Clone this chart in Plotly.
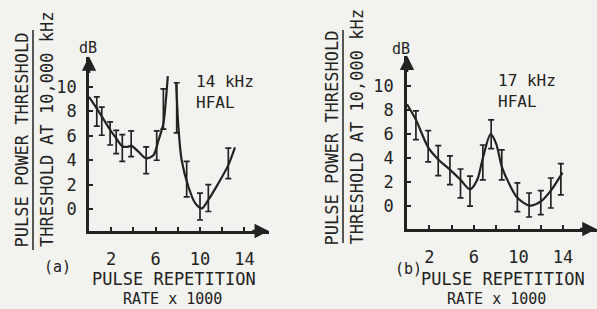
import plotly.graph_objects as go

W, H = 597, 309
INK = "#222222"
BG = "#f2f2ee"
FONT = "DejaVu Sans Mono"

# ---------- data: panel (a) 14 kHz ----------
a_bar_x = [0.7, 1.15, 1.9, 2.45, 3.0, 3.8, 5.15, 6.1, 6.7, 7.9, 8.8, 10.0, 10.75, 12.55]
a_bar_y = [8.0, 7.2, 6.2, 5.5, 5.0, 5.35, 4.0, 5.2, 8.2, 8.3, 2.45, 0.2, 0.9, 3.75]
a_bar_e = [1.2, 1.15, 0.95, 0.95, 1.1, 1.05, 1.1, 1.2, 1.65, 2.05, 1.45, 1.1, 1.1, 1.25]
a_curve_x = [0, 0.7, 1.15, 1.9, 2.45, 3.0, 3.5, 3.8, 4.45, 5.15, 5.8, 6.25, 6.7, 6.95, 7.1,
             None,
             7.85, 8.05, 8.35, 8.95, 9.55, 10.15, 10.75, 11.65, 12.55, 13.15]
a_curve_y = [9.2, 8.25, 7.6, 6.5, 5.8, 5.15, 5.1, 5.2, 4.7, 4.15, 4.4, 5.6, 7.0, 9.2, 10.9,
             None,
             10.4, 6.75, 4.0, 1.85, 0.5, 0.05, 0.75, 2.1, 3.6, 5.05]

# ---------- data: panel (b) 17 kHz ----------
b_bar_x = [0.8, 1.9, 2.8, 3.85, 4.8, 5.65, 6.8, 7.55, 8.5, 9.9, 10.95, 12.0, 12.9, 13.8]
b_bar_y = [6.75, 5.0, 3.8, 3.0, 1.9, 1.25, 3.65, 6.0, 3.45, 0.75, 0.1, 0.3, 1.1, 2.25]
b_bar_e = [1.2, 1.3, 1.25, 1.2, 1.2, 1.25, 1.45, 1.2, 1.25, 1.2, 1.0, 1.0, 1.25, 1.3]
b_curve_x = [0, 0.8, 1.9, 2.8, 3.85, 4.8, 5.65, 6.3, 6.8, 7.5, 8.0, 8.5, 9.2, 9.9, 11.0, 12.0, 12.9, 13.95]
b_curve_y = [8.5, 7.2, 4.9, 3.9, 3.05, 2.2, 1.4, 2.2, 4.0, 6.0, 5.2, 3.3, 1.8, 0.7, 0.05, 0.4, 1.3, 2.8]

x_tickvals = [2, 4, 6, 8, 10, 12, 14]
x_ticktext = ["2", "", "6", "", "10", "", "14"]
y_tickvals = [0, 2, 4, 6, 8, 10]
y_ticktext = ["0", "2", "4", "6", "8", "10"]


def px(x):
    return x / W


def py(y):
    return 1 - y / H


fig = go.Figure()

for (cx, cy, bx, by, be, xa, ya) in [
    (a_curve_x, a_curve_y, a_bar_x, a_bar_y, a_bar_e, "x", "y"),
    (b_curve_x, b_curve_y, b_bar_x, b_bar_y, b_bar_e, "x2", "y2"),
]:
    fig.add_trace(go.Scatter(x=cx, y=cy, mode="lines", xaxis=xa, yaxis=ya,
                             line=dict(color=INK, width=2.2, shape="spline", smoothing=0.8),
                             connectgaps=False, showlegend=False, hoverinfo="skip"))
    fig.add_trace(go.Scatter(x=bx, y=by, mode="markers", xaxis=xa, yaxis=ya,
                             marker=dict(size=0.1, color=INK),
                             error_y=dict(type="data", array=be, visible=True,
                                          color=INK, thickness=1.7, width=3),
                             showlegend=False, hoverinfo="skip"))

axis_common = dict(showgrid=False, zeroline=False, showline=True, linecolor=INK,
                   linewidth=2.6, ticks="inside", ticklen=4, tickwidth=1.8,
                   tickcolor=INK, tickfont=dict(family=FONT, size=17, color=INK))

# panel a geometry: x0 at 89px, 11.1 px/unit; 0dB at 209px, 12.2 px/dB
ax_xr = [0, 16.2]
ax_yr = [-1.8, 12.5]
a_x0, a_x1 = 89, 89 + 16.2 * 11.1
a_yb, a_yt = 231, 231 - 14.3 * 12.2
# panel b geometry: x0 at 407px, 11.15 px/unit; 0dB at 206.5px, 12.0 px/dB
bx_xr = [0, 17]
bx_yr = [-1.9, 12.55]
b_x0, b_x1 = 407, 407 + 17 * 11.15
b_yb, b_yt = 229, 229 - 14.45 * 12.0

fig.update_layout(
    width=W, height=H, margin=dict(l=0, r=0, t=0, b=0),
    paper_bgcolor=BG, plot_bgcolor=BG,
    xaxis=dict(domain=[px(a_x0), px(a_x1)], range=ax_xr, anchor="y",
               tickvals=x_tickvals, ticktext=x_ticktext, ticklabelstandoff=11, **axis_common),
    yaxis=dict(domain=[py(a_yb), py(a_yt)], range=ax_yr, anchor="x",
               tickvals=y_tickvals, ticktext=y_ticktext, ticklabelstandoff=6, **axis_common),
    xaxis2=dict(domain=[px(b_x0), min(1, px(b_x1))], range=bx_xr, anchor="y2",
                tickvals=x_tickvals, ticktext=x_ticktext, ticklabelstandoff=11, **axis_common),
    yaxis2=dict(domain=[py(b_yb), py(b_yt)], range=bx_yr, anchor="x2",
                tickvals=y_tickvals, ticktext=y_ticktext, ticklabelstandoff=7, **axis_common),
)

ann = []


def text(x, y, s, size=17, angle=0, xanchor="center"):
    ann.append(dict(x=px(x), y=py(y), xref="paper", yref="paper", text=s, showarrow=False,
                    textangle=angle, xanchor=xanchor, yanchor="middle", borderpad=0,
                    font=dict(family=FONT, size=size, color=INK)))


# axis arrows
for xr, yr, xtop, ytop, xend, yend in [
    ("x", "y", 0, ax_yr[1], ax_xr[1], ax_yr[0]),
    ("x2", "y2", 0, bx_yr[1], bx_xr[1], bx_yr[0]),
]:
    ann.append(dict(x=xtop, y=ytop, xref=xr, yref=yr, ax=0, ay=18, showarrow=True,
                    arrowhead=2, arrowsize=1.1, arrowwidth=2.6, arrowcolor=INK, text=""))
    ann.append(dict(x=xend, y=yend, xref=xr, yref=yr, ax=-18, ay=0, showarrow=True,
                    arrowhead=2, arrowsize=1.1, arrowwidth=2.6, arrowcolor=INK, text=""))

# panel a texts
text(21.5, 140, "PULSE POWER THRESHOLD", angle=-90)
text(47, 130, "THRESHOLD AT 10,000 kHz", angle=-90)
text(88, 48, "dB", size=15)
text(195, 81, "14 kHz", size=16, xanchor="left")
text(195, 102, "HFAL", size=16, xanchor="left")
text(57, 267, "(a)", size=15)
text(174, 279, "PULSE REPETITION")
text(172, 299, "RATE x 1000", size=15)

# panel b texts
text(331.5, 138, "PULSE POWER THRESHOLD", angle=-90)
text(356.5, 127, "THRESHOLD AT 10,000 kHz", angle=-90)
text(401, 49, "dB", size=15)
text(497, 80, "17 kHz", size=16, xanchor="left")
text(497, 101, "HFAL", size=16, xanchor="left")
text(408, 269, "(b)", size=15)
text(503, 279, "PULSE REPETITION")
text(496, 299, "RATE x 1000", size=15)

fig.update_layout(annotations=ann)

# fraction bars of the y titles
for xline, y0, y1 in [(33, 30, 250), (343, 30, 243)]:
    fig.add_shape(type="line", xref="paper", yref="paper",
                  x0=px(xline), x1=px(xline), y0=py(y0), y1=py(y1),
                  line=dict(color=INK, width=1.5))

fig.write_html("out.html", config={"displayModeBar": False},
               post_script="document.body.style.margin='0';")
